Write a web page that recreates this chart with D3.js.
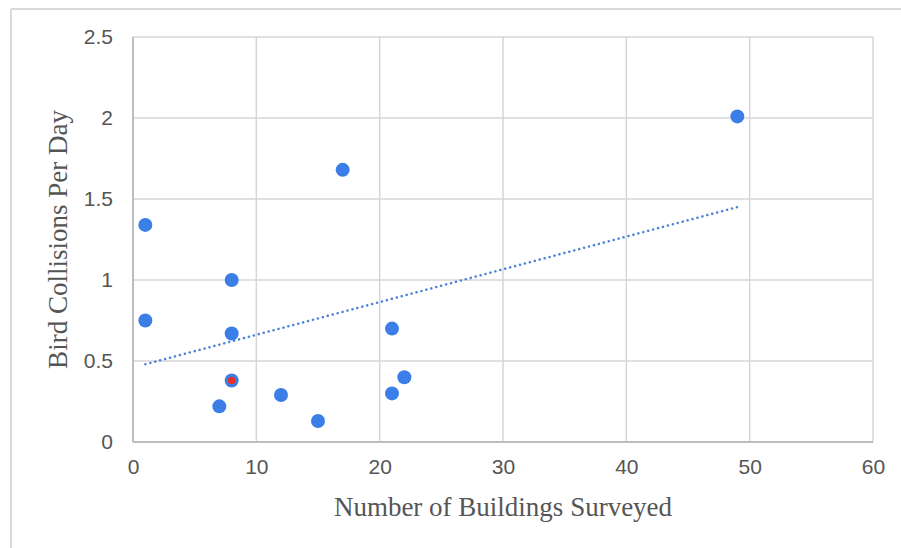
<!DOCTYPE html>
<html>
<head>
<meta charset="utf-8">
<script src="https://cdn.jsdelivr.net/npm/d3@7"></script>
<style>
  body { margin: 0; background: #fff; }
</style>
</head>
<body>
<div id="chart"></div>
<script>
// data
var buildings  = [1, 1, 8, 8, 8, 7, 12, 15, 17, 21, 21, 22, 49]
var collisions = [1.34, 0.75, 1.0, 0.67, 0.38, 0.22, 0.29, 0.13, 1.68, 0.70, 0.30, 0.40, 2.01]
var redPoint = {x: 8, y: 0.38}
var trendX = [1, 49]
var trendY = [0.48, 1.45]
var xTicks = [0, 10, 20, 30, 40, 50, 60]
var yTicks = [0, 0.5, 1, 1.5, 2, 2.5]

var W = 901, H = 548
var margin = {top: 37, right: 28, bottom: 106, left: 133},
  width = W - margin.left - margin.right,
  height = H - margin.top - margin.bottom

var svg = d3.select("#chart")
  .append("svg")
    .attr("width", W)
    .attr("height", H)

// outer frame (only top and left edges show)
svg.append("line")
  .attr("x1", 11).attr("x2", W).attr("y1", 9).attr("y2", 9)
  .style("stroke", "#d9d9d9").style("stroke-width", 2)
svg.append("line")
  .attr("x1", 11).attr("x2", 11).attr("y1", 9).attr("y2", H)
  .style("stroke", "#d9d9d9").style("stroke-width", 2)

var g = svg.append("g")
  .attr("transform", "translate(" + margin.left + "," + margin.top + ")")

var x = d3.scaleLinear().domain([0, 60]).range([0, width])
var y = d3.scaleLinear().domain([0, 2.5]).range([height, 0])

// grid lines
g.selectAll("vgrid")
  .data(xTicks)
  .enter()
  .append("line")
    .attr("x1", function(d){ return x(d) })
    .attr("x2", function(d){ return x(d) })
    .attr("y1", 0).attr("y2", height)
    .style("stroke", "#d6d6d6").style("stroke-width", 1.5)
g.selectAll("hgrid")
  .data(yTicks)
  .enter()
  .append("line")
    .attr("x1", 0).attr("x2", width)
    .attr("y1", function(d){ return y(d) })
    .attr("y2", function(d){ return y(d) })
    .style("stroke", "#d6d6d6").style("stroke-width", 1.5)

// axis lines
g.append("line")
  .attr("x1", 0).attr("x2", 0).attr("y1", 0).attr("y2", height)
  .style("stroke", "#bdbdbd").style("stroke-width", 2)
g.append("line")
  .attr("x1", 0).attr("x2", width).attr("y1", height).attr("y2", height)
  .style("stroke", "#bdbdbd").style("stroke-width", 2)

// tick labels through d3 axes, domain and tick lines hidden
var xAxis = g.append("g")
  .attr("transform", "translate(0," + height + ")")
  .call(d3.axisBottom(x).tickValues(xTicks).tickSize(0).tickPadding(17).tickFormat(d3.format("d")))
var yAxis = g.append("g")
  .call(d3.axisLeft(y).tickValues(yTicks).tickSize(0).tickPadding(20).tickFormat(function(d){ return String(d) }))

;[xAxis, yAxis].forEach(function(a){
  a.select(".domain").remove()
  a.selectAll("text")
    .style("font-family", "'Liberation Sans', Arial, sans-serif")
    .style("font-size", "21px")
    .style("fill", "#555")
})

// trendline
g.append("path")
  .datum(d3.zip(trendX, trendY))
  .attr("d", d3.line()
    .x(function(d){ return x(d[0]) })
    .y(function(d){ return y(d[1]) }))
  .style("fill", "none")
  .style("stroke", "#4a82d9")
  .style("stroke-width", 2.5)
  .style("stroke-dasharray", "0.1,5")
  .style("stroke-linecap", "round")

// points
g.selectAll("dots")
  .data(d3.zip(buildings, collisions))
  .enter()
  .append("circle")
    .attr("cx", function(d){ return x(d[0]) })
    .attr("cy", function(d){ return y(d[1]) })
    .attr("r", 7)
    .style("fill", "#3b7ee8")

g.append("circle")
  .attr("cx", x(redPoint.x))
  .attr("cy", y(redPoint.y))
  .attr("r", 3.8)
  .style("fill", "#e8302a")

// axis titles
svg.append("text")
  .attr("x", margin.left + width / 2)
  .attr("y", 516)
  .attr("text-anchor", "middle")
  .style("font-family", "'Liberation Serif', 'Times New Roman', serif")
  .style("font-size", "27px")
  .style("fill", "#555")
  .text("Number of Buildings Surveyed")

svg.append("text")
  .attr("transform", "translate(67," + (margin.top + height / 2) + ") rotate(-90)")
  .attr("text-anchor", "middle")
  .style("font-family", "'Liberation Serif', 'Times New Roman', serif")
  .style("font-size", "27px")
  .style("fill", "#555")
  .text("Bird Collisions Per Day")
</script>
</body>
</html>
